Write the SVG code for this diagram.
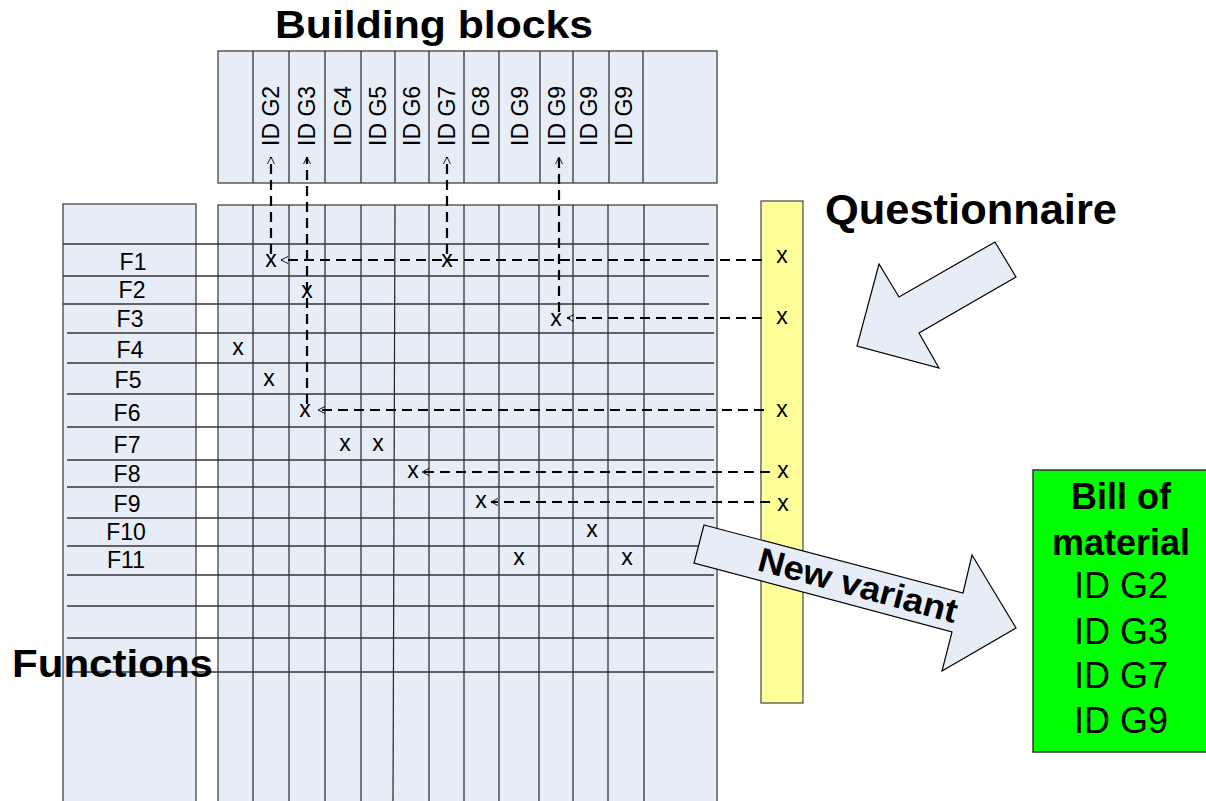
<svg xmlns="http://www.w3.org/2000/svg" width="1206" height="801" viewBox="0 0 1206 801">
<style>
.box{fill:#E6EDF7;stroke:#444;stroke-width:1.3}
.grid{stroke:#222;stroke-width:1.2;fill:none}
.hl{stroke:#333;stroke-width:1.3;fill:none}
.lbl{font-family:"Liberation Sans",Arial,sans-serif;font-size:23px;fill:#000}
.x{font-family:"Liberation Sans",Arial,sans-serif;font-size:23px;fill:#000;text-anchor:middle}
.title{font-family:"Liberation Sans",Arial,sans-serif;font-weight:bold;fill:#000}
.dash{stroke:#000;stroke-width:2.2;stroke-dasharray:10,6;fill:none}
.big{fill:#E6EDF7;stroke:#000;stroke-width:1.2}
</style>
<defs>
<marker id="ah" viewBox="0 0 10 10" refX="10" refY="5" markerUnits="userSpaceOnUse" markerWidth="7" markerHeight="9" orient="auto">
<path d="M0,0 L10,5 L0,10" fill="none" stroke="#000" stroke-width="1.3"/>
</marker>
</defs>

<g id="title-building-blocks">
<text class="title" x="275" y="38" font-size="38" textLength="318" lengthAdjust="spacingAndGlyphs">Building blocks</text>
</g>

<g id="building-blocks">
<rect class="box" x="218" y="51" width="499" height="132"/>
<g class="grid">
<line x1="253" y1="51" x2="253" y2="183"/><line x1="289" y1="51" x2="289" y2="183"/>
<line x1="325" y1="51" x2="325" y2="183"/><line x1="361" y1="51" x2="361" y2="183"/>
<line x1="395" y1="51" x2="395" y2="183"/><line x1="429" y1="51" x2="429" y2="183"/>
<line x1="464" y1="51" x2="464" y2="183"/><line x1="499" y1="51" x2="499" y2="183"/>
<line x1="540" y1="51" x2="540" y2="183"/><line x1="573" y1="51" x2="573" y2="183"/>
<line x1="609" y1="51" x2="609" y2="183"/><line x1="643" y1="51" x2="643" y2="183"/>
</g>
<g class="lbl">
<text transform="translate(279,146) rotate(-90)">ID G2</text>
<text transform="translate(315,146) rotate(-90)">ID G3</text>
<text transform="translate(351,146) rotate(-90)">ID G4</text>
<text transform="translate(386,146) rotate(-90)">ID G5</text>
<text transform="translate(420,146) rotate(-90)">ID G6</text>
<text transform="translate(455,146) rotate(-90)">ID G7</text>
<text transform="translate(489,146) rotate(-90)">ID G8</text>
<text transform="translate(528,146) rotate(-90)">ID G9</text>
<text transform="translate(565,146) rotate(-90)">ID G9</text>
<text transform="translate(597,146) rotate(-90)">ID G9</text>
<text transform="translate(632,146) rotate(-90)">ID G9</text>
</g>
</g>

<g id="functions">
<rect class="box" x="63" y="204" width="133" height="600"/>
<g class="lbl" text-anchor="middle">
<text x="133" y="270">F1</text>
<text x="132" y="298">F2</text>
<text x="130" y="327">F3</text>
<text x="130" y="358">F4</text>
<text x="128" y="388">F5</text>
<text x="127" y="421">F6</text>
<text x="127" y="453">F7</text>
<text x="127" y="482">F8</text>
<text x="127" y="512">F9</text>
<text x="126" y="540">F10</text>
<text x="126" y="568">F11</text>
</g>
</g>

<g id="matrix">
<rect class="box" x="218" y="205" width="499" height="600"/>
<g class="grid">
<line x1="253" y1="205" x2="253" y2="801"/><line x1="289" y1="205" x2="289" y2="801"/>
<line x1="325" y1="205" x2="325" y2="801"/><line x1="361" y1="205" x2="361" y2="801"/>
<line x1="395" y1="205" x2="393" y2="801"/><line x1="429" y1="205" x2="429" y2="801"/>
<line x1="464" y1="205" x2="464" y2="801"/><line x1="499" y1="205" x2="499" y2="801"/>
<line x1="539" y1="205" x2="539" y2="801"/><line x1="573" y1="205" x2="573" y2="801"/>
<line x1="608" y1="205" x2="608" y2="801"/><line x1="644" y1="205" x2="644" y2="801"/>
</g>
<g class="hl">
<line x1="63" y1="244" x2="709" y2="244"/>
<line x1="63" y1="276" x2="709" y2="276"/>
<line x1="63" y1="304" x2="709" y2="304"/>
<line x1="67" y1="333" x2="714" y2="333"/>
<line x1="67" y1="363" x2="714" y2="363"/>
<line x1="67" y1="394" x2="714" y2="394"/>
<line x1="67" y1="427" x2="714" y2="427"/>
<line x1="67" y1="460" x2="714" y2="460"/>
<line x1="67" y1="487" x2="714" y2="487"/>
<line x1="67" y1="518" x2="714" y2="518"/>
<line x1="67" y1="546" x2="714" y2="546"/>
<line x1="67" y1="575" x2="714" y2="575"/>
<line x1="67" y1="606" x2="714" y2="606"/>
<line x1="67" y1="638" x2="714" y2="638"/>
<line x1="67" y1="672" x2="714" y2="672"/>
</g>
<g class="x">
<text x="271" y="267">x</text>
<text x="447" y="267">x</text>
<text x="307" y="298">x</text>
<text x="556" y="326">x</text>
<text x="238" y="355">x</text>
<text x="269" y="386">x</text>
<text x="305" y="417">x</text>
<text x="345" y="451">x</text>
<text x="378" y="451">x</text>
<text x="413" y="478">x</text>
<text x="481" y="508">x</text>
<text x="592" y="537">x</text>
<text x="519" y="565">x</text>
<text x="627" y="565">x</text>
</g>
</g>

<g id="questionnaire-bar">
<rect x="761" y="201" width="42" height="502" fill="#FFFF99" stroke="#555" stroke-width="1.3"/>
<g class="x">
<text x="782" y="263">x</text>
<text x="782" y="324">x</text>
<text x="782" y="417">x</text>
<text x="783" y="478">x</text>
<text x="783" y="511">x</text>
</g>
</g>

<g id="connectors">
<line class="dash" x1="762" y1="260" x2="281" y2="260" marker-end="url(#ah)"/>
<line class="dash" x1="762" y1="318" x2="567" y2="318" marker-end="url(#ah)"/>
<line class="dash" x1="764" y1="410" x2="318" y2="410" marker-end="url(#ah)"/>
<line class="dash" x1="770" y1="472" x2="422" y2="472" marker-end="url(#ah)"/>
<line class="dash" x1="770" y1="502" x2="491" y2="502" marker-end="url(#ah)"/>
<line class="dash" x1="271" y1="254" x2="271" y2="157" marker-end="url(#ah)"/>
<line class="dash" x1="307" y1="404" x2="307" y2="157" marker-end="url(#ah)"/>
<line class="dash" x1="447" y1="254" x2="447" y2="157" marker-end="url(#ah)"/>
<line class="dash" x1="559" y1="312" x2="559" y2="157" marker-end="url(#ah)"/>
</g>

<g id="questionnaire">
<text class="title" x="825" y="224" font-size="42" textLength="292" lengthAdjust="spacingAndGlyphs">Questionnaire</text>
<polygon class="big" points="995,242 1016,277 919,333 939,368 857,346 879,264 899,297"/>
</g>

<g id="title-functions">
<text class="title" x="12" y="677" font-size="38" textLength="201" lengthAdjust="spacingAndGlyphs">Functions</text>
</g>

<g id="new-variant">
<polygon class="big" points="704,525 963,593 972,555 1016,628 942,671 952,632 694,563"/>
<text class="title" font-size="34" transform="translate(756,570) rotate(15)" textLength="205" lengthAdjust="spacingAndGlyphs">New variant</text>
</g>

<g id="bill-of-material">
<rect x="1033" y="470" width="180" height="282" fill="#00FF00" stroke="#333" stroke-width="1.5"/>
<g font-family="Liberation Sans, Arial, sans-serif" font-size="36" text-anchor="middle" fill="#000">
<text x="1121" y="509" font-weight="bold">Bill of</text>
<text x="1121" y="555" font-weight="bold">material</text>
<text x="1121" y="598">ID G2</text>
<text x="1121" y="644">ID G3</text>
<text x="1121" y="688">ID G7</text>
<text x="1121" y="733">ID G9</text>
</g>
</g>
</svg>
